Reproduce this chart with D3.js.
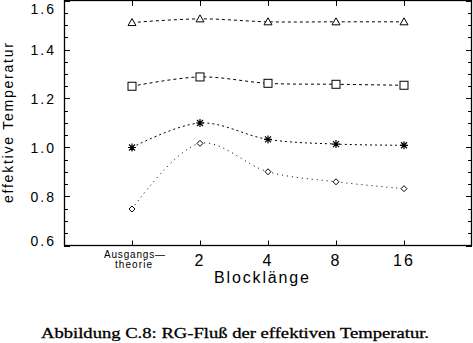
<!DOCTYPE html>
<html><head><meta charset="utf-8">
<script src="https://cdn.jsdelivr.net/npm/d3@7"></script>
<style>body{margin:0;background:#fff}svg{display:block}</style>
</head><body>
<script>
const categories = ["Ausgangs\u2014theorie", "2", "4", "8", "16"];
const triangleValues = [1.51, 1.525, 1.513, 1.513, 1.513];
const squareValues = [1.25, 1.288, 1.262, 1.258, 1.254];
const starValues = [1.0, 1.1, 1.033, 1.014, 1.009];
const diamondValues = [0.749, 1.017, 0.901, 0.86, 0.832];
const yTicks = [0.6, 0.8, 1.0, 1.2, 1.4, 1.6];
const yTickLabels = ["0.6", "0.8", "1.0", "1.2", "1.4", "1.6"];

const W = 473, H = 343;
const svg = d3.select("body").append("svg").attr("width", W).attr("height", H);
const L = 64, R = 472, T = 0.5, B = 245.5;
const x = d3.scaleLinear().domain([0, 6]).range([L, R]);
const y = d3.scaleLinear().domain([0.6, 1.6]).range([B, T]);
const xi = i => x(i + 1);

// frame
svg.append("rect").attr("x", L + 0.5).attr("y", 0.5).attr("width", R - L - 1).attr("height", B - 0.5)
  .attr("fill", "none").attr("stroke", "#000").attr("stroke-width", 1.3);

const minor = d3.range(0.6, 1.6001, 0.05);
minor.forEach(v => {
  const major = Math.abs(Math.round(v * 5) - v * 5) < 1e-6;
  const len = major ? 6 : 4;
  const yy = Math.round(y(v)) + 0.5;
  svg.append("line").attr("x1", L).attr("x2", L + len).attr("y1", yy).attr("y2", yy).attr("stroke", "#000");
  svg.append("line").attr("x1", R - len).attr("x2", R).attr("y1", yy).attr("y2", yy).attr("stroke", "#000");
});
categories.forEach((c, i) => {
  const xx = Math.round(xi(i)) + 0.5;
  svg.append("line").attr("x1", xx).attr("x2", xx).attr("y1", 0).attr("y2", 6).attr("stroke", "#000");
  svg.append("line").attr("x1", xx).attr("x2", xx).attr("y1", B - 5).attr("y2", B).attr("stroke", "#000");
});

const font = "'Liberation Sans', Arial, sans-serif";
// y tick labels (clamped inside the window like the reference)
yTicks.forEach((v, i) => {
  const cy = Math.max(8.5, Math.min(241, y(v)));
  svg.append("text").attr("x", 56).attr("y", cy + 5).attr("text-anchor", "end")
    .attr("font-family", font).attr("font-size", 14).attr("letter-spacing", 2).text(yTickLabels[i]);
});
// x tick labels
categories.forEach((c, i) => {
  if (i === 0) {
    const parts = c.split("\u2014");
    svg.append("text").attr("x", 104).attr("y", 258)
      .attr("font-family", font).attr("font-size", 10).attr("textLength", 61).attr("lengthAdjust", "spacing").text(parts[0] + "\u2014");
    svg.append("text").attr("x", 115).attr("y", 268)
      .attr("font-family", font).attr("font-size", 10).attr("textLength", 37).attr("lengthAdjust", "spacing").text(parts[1]);
  } else {
    svg.append("text").attr("x", xi(i)).attr("y", 266).attr("text-anchor", "middle")
      .attr("font-family", font).attr("font-size", 16).attr("letter-spacing", 2).text(c);
  }
});
svg.append("text").attr("x", 214).attr("y", 283).attr("font-family", font).attr("font-size", 16)
  .attr("textLength", 95).attr("lengthAdjust", "spacing").text("Blockl\u00e4nge");
svg.append("text").attr("transform", "translate(13,203) rotate(-90)").attr("font-family", font)
  .attr("font-size", 14).attr("textLength", 160).attr("lengthAdjust", "spacing").text("effektive Temperatur");

svg.append("text").attr("x", 41).attr("y", 338).attr("font-family", "'Liberation Serif', serif")
  .attr("font-size", 15.5).attr("textLength", 388).attr("lengthAdjust", "spacingAndGlyphs")
  .attr("stroke", "#000").attr("stroke-width", 0.3)
  .text("Abbildung C.8: RG-Flu\u00df der effektiven Temperatur.");

const line = d3.line().x((d, i) => xi(i)).y(d => y(d)).curve(d3.curveCatmullRom.alpha(0.5));
const series = [
  {vals: triangleValues, dash: "3,3", m: "tri"},
  {vals: squareValues, dash: "3,3", m: "sq"},
  {vals: starValues, dash: "2,3", m: "star"},
  {vals: diamondValues, dash: "1,4", m: "dia"}
];
series.forEach(s => {
  svg.append("path").attr("d", line(s.vals)).attr("fill", "none").attr("stroke", "#000")
    .attr("stroke-width", 1).attr("stroke-dasharray", s.dash);
  s.vals.forEach((v, i) => {
    const cx = xi(i), cy = y(v);
    const g = svg.append("g").attr("transform", `translate(${cx},${cy})`);
    if (s.m === "tri") g.append("path").attr("d", "M-4,3L0,-4L4,3Z").attr("fill", "#fff").attr("stroke", "#000");
    if (s.m === "sq") g.append("rect").attr("x", -4).attr("y", -4).attr("width", 8).attr("height", 8).attr("fill", "#fff").attr("stroke", "#000");
    if (s.m === "dia") g.append("path").attr("d", "M0,-3L3,0L0,3L-3,0Z").attr("fill", "#fff").attr("stroke", "#000");
    if (s.m === "star") g.append("path").attr("d", "M-4,0H4M0,-4V4M-3,-3L3,3M-3,3L3,-3").attr("stroke", "#000").attr("stroke-width", 1.2);
  });
});
</script>
</body></html>
